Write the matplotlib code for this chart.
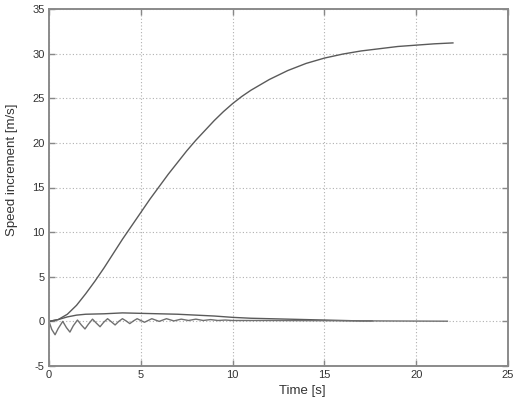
import matplotlib
matplotlib.use("Agg")
import matplotlib.pyplot as plt

plt.rcParams['font.family'] = ['Liberation Sans', 'DejaVu Sans']
plt.rcParams['axes.unicode_minus'] = False

# Main speed increment curve
main_t = [0, 0.5, 1.0, 1.5, 2.0, 2.5, 3.0, 3.5, 4.0, 4.5, 5.0, 5.5, 6.0, 6.5, 7.0,
          7.5, 8.0, 8.5, 9.0, 9.5, 10.0, 10.5, 11.0, 12.0, 13.0, 14.0, 15.0, 16.0,
          17.0, 18.0, 19.0, 20.0, 21.0, 22.0]
main_v = [0, 0.2, 0.8, 1.8, 3.1, 4.5, 6.0, 7.6, 9.2, 10.7, 12.2, 13.7, 15.1, 16.5,
          17.8, 19.1, 20.3, 21.4, 22.5, 23.5, 24.4, 25.2, 25.9, 27.1, 28.1, 28.9,
          29.5, 29.95, 30.3, 30.55, 30.8, 30.95, 31.1, 31.2]

# Small smooth positive curve
smooth_t = [0, 0.5, 1.0, 1.5, 2.0, 3.0, 4.0, 5.0, 6.0, 7.0, 8.0, 9.0, 10.0, 11.0,
            12.0, 13.0, 14.0, 15.0, 16.0, 17.0, 17.6]
smooth_v = [0, 0.2, 0.5, 0.7, 0.8, 0.85, 0.95, 0.9, 0.85, 0.8, 0.7, 0.6, 0.45,
            0.35, 0.3, 0.25, 0.2, 0.15, 0.1, 0.05, 0.05]

# Damped oscillating curve
osc_t = [0, 0.15, 0.33, 0.5, 0.75, 0.95, 1.14, 1.32, 1.55, 1.76, 1.96, 2.15, 2.37,
         2.58, 2.78, 2.98, 3.19, 3.4, 3.6, 3.8, 4.0, 4.2, 4.4, 4.6, 4.8, 5.2, 5.6,
         6.0, 6.4, 6.8, 7.2, 7.6, 8.0, 8.4, 8.8, 9.2, 9.6, 10.0, 12.0, 15.0, 18.0,
         21.7]
osc_v = [0, -0.9, -1.5, -0.8, 0.0, -0.7, -1.2, -0.5, 0.15, -0.4, -0.85, -0.3, 0.25,
         -0.2, -0.6, -0.1, 0.3, -0.05, -0.4, 0.0, 0.3, 0.05, -0.25, 0.05, 0.3, -0.1,
         0.3, 0.0, 0.3, 0.05, 0.25, 0.1, 0.25, 0.1, 0.2, 0.1, 0.15, 0.1, 0.1, 0.08,
         0.05, 0.02]

x_ticks = [0, 5, 10, 15, 20, 25]
y_ticks = [-5, 0, 5, 10, 15, 20, 25, 30, 35]

fig = plt.figure(figsize=(5.17, 3.99), dpi=100)
ax = fig.add_axes([49/517, 1-366/399, (508-49)/517, (366-9)/399])

line_c = '#5a5a5a'
ax.plot(main_t, main_v, color=line_c, lw=1.0)
ax.plot(smooth_t, smooth_v, color=line_c, lw=1.0)
ax.plot(osc_t, osc_v, color='#707070', lw=1.0)

ax.set_xlim(0, 25)
ax.set_ylim(-5, 35)
ax.set_xticks(x_ticks)
ax.set_yticks(y_ticks)
ax.set_xticklabels([str(v) for v in x_ticks])
ax.set_yticklabels([str(v) for v in y_ticks])
ax.grid(True, linestyle=(0, (1, 2)), color='#b0b0b0', lw=0.8)
ax.tick_params(direction='in', length=4, top=True, right=True, labelsize=8,
               colors='#888888', labelcolor='#333333', width=1.0, pad=3)
for s in ax.spines.values():
    s.set_color('#8a8a8a')
    s.set_linewidth(1.4)

fig.text(302/517, 1-391/399, 'Time [s]', ha='center', va='center', fontsize=9.5, color='#333333')
fig.text(12.5/517, 1-170/399, 'Speed increment [m/s]', ha='center', va='center',
         rotation=90, fontsize=9.5, color='#333333')

fig.savefig('out.png', dpi=100)
